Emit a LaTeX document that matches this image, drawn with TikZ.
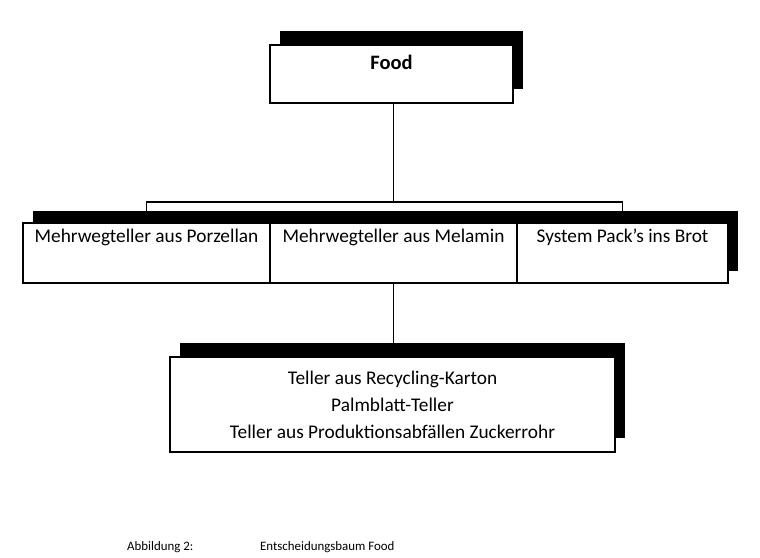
\documentclass[tikz,border=0pt]{standalone}
\usepackage{fontspec}
\setmainfont{Carlito}
\usetikzlibrary{shadows}

\begin{document}
\begin{tikzpicture}[
  x=0.03cm, y=0.03cm,
  box/.style={draw, fill=white, line width=1.4pt, inner sep=0pt, align=center,
    font=\fontsize{16.5}{23}\selectfont},
  shadowhi/.style={general shadow={fill=black, shadow xshift=0.3cm, shadow yshift=0.42cm}},
  shadowlo/.style={general shadow={fill=black, shadow xshift=0.3cm, shadow yshift=0.36cm}},
  conn/.style={line width=1.5pt},
  caption/.style={anchor=base west, font=\fontsize{11}{13}\selectfont}
]
\useasboundingbox (0,0) rectangle (760,557);

% root
\node[box, shadowhi, minimum width=7.29cm, minimum height=1.74cm,
  text height=0.45cm, text depth=0.69cm, font=\fontsize{17.5}{20}\selectfont\bfseries]
  (food) at (391.5,483) {Food};

% first level
\node[box, shadowlo, minimum width=7.41cm, minimum height=1.8cm,
  text height=0.37cm, text depth=1.01cm] (porz) at (146.5,304) {Mehrwegteller aus Porzellan};
\node[box, shadowlo, minimum width=7.41cm, minimum height=1.8cm,
  text height=0.37cm, text depth=1.01cm] (mel) at (393.5,304) {Mehrwegteller aus Melamin};
\node[box, shadowlo, minimum width=6.33cm, minimum height=1.8cm,
  text height=0.37cm, text depth=1.01cm] (brot) at (622.5,304) {System Pack's ins Brot};

% second level
\node[box, shadowhi, minimum width=13.35cm, minimum height=2.85cm] (alt) at (392.5,152.5)
  {Teller aus Recycling-Karton\\Palmblatt-Teller\\Teller aus Produktionsabfällen Zuckerrohr};

\coordinate (fork) at (393.5,355);
\draw[conn] (fork |- food.south) -- (fork);
\draw[conn] (porz.north) -- (porz.north |- fork) -- (brot.north |- fork) -- (brot.north);
\draw[conn] (mel.south) -- (mel.south |- alt.north);

\node[caption] (capnum) at (123,7) {Abbildung 2:};
\node[caption] (captxt) at (256,7) {Entscheidungsbaum Food};
\end{tikzpicture}
\end{document}
